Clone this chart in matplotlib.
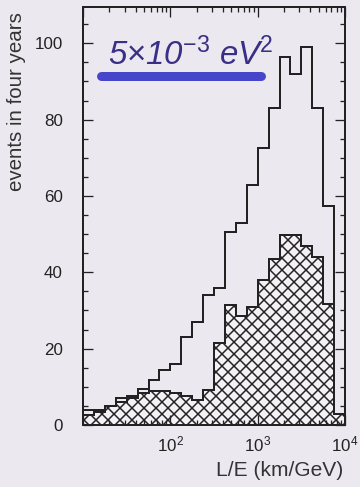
import matplotlib
matplotlib.use("Agg")
import matplotlib.pyplot as plt
import numpy as np
from matplotlib.ticker import FixedLocator, LogLocator, MultipleLocator, FuncFormatter

# binning: 8 bins per decade from 10 to 10^4 km/GeV
bin_edges = np.logspace(1, 4, 25)

# all events (open histogram)
events_all = [4, 4, 5, 7, 7, 9.5, 11.8, 14.4, 16.1, 23, 27, 34, 36,
              50.5, 53, 63, 72.5, 83, 96.5, 92, 99, 83, 57.5, 3]
# oscillated expectation (hatched histogram)
events_osc = [2.5, 3.5, 5, 6, 7.5, 8.5, 9, 9, 8.5, 7.5, 6.5, 9.2, 21.4,
              31.4, 28.5, 31, 38, 43.5, 49.7, 49.7, 47, 44, 31.8, 3]

x_ticks = [10, 100, 1000, 10000]
y_ticks = [0, 20, 40, 60, 80, 100]
dm2_label = r"5$\times$10$^{-3}$ eV$^{2}$"

bg = "#ebe9ef"
plt.rcParams["font.family"] = ["Liberation Sans", "DejaVu Sans"]
plt.rcParams["mathtext.fontset"] = "custom"
plt.rcParams["mathtext.rm"] = "Liberation Sans"
plt.rcParams["mathtext.it"] = "Liberation Sans:italic"
plt.rcParams["hatch.linewidth"] = 1.5

fig = plt.figure(figsize=(5.0, 487 / 72), dpi=72, facecolor=bg)
ax = fig.add_axes([83 / 360, 62 / 487, 262 / 360, 418 / 487])
ax.set_facecolor(bg)

ax.stairs(events_osc, bin_edges, fill=True, facecolor="#f3f1f5",
          edgecolor="#222222", hatch="xx", linewidth=0)
ax.stairs(events_osc, bin_edges, color="#222222", linewidth=2)
ax.stairs(events_all, bin_edges, color="#222222", linewidth=2)

ax.set_xscale("log")
ax.set_xlim(10, 10000)
ax.set_ylim(0, 109.5)

ax.xaxis.set_major_locator(FixedLocator(x_ticks))
ax.xaxis.set_minor_locator(LogLocator(base=10, subs=np.arange(2, 10)))
ax.xaxis.set_major_formatter(FuncFormatter(
    lambda v, p: "" if v < 50 else r"$10^{%d}$" % round(np.log10(v))))
ax.xaxis.set_minor_formatter(FuncFormatter(lambda v, p: ""))
ax.yaxis.set_major_locator(FixedLocator(y_ticks))
ax.yaxis.set_minor_locator(MultipleLocator(5))

ax.tick_params(which="both", direction="in", top=True, right=True,
               colors="#222222", width=1.3)
ax.tick_params(which="major", length=10, labelsize=17)
ax.tick_params(axis="y", which="major", pad=20)
ax.tick_params(axis="x", which="major", pad=10)
ax.tick_params(which="minor", length=5)
for s in ax.spines.values():
    s.set_linewidth(2)
    s.set_color("#222222")

fig.text(343 / 360, 1 - 471 / 487, "L/E (km/GeV)", ha="right", va="center",
         fontsize=21, color="#333333")
fig.text(17 / 360, 1 - 102 / 487, "events in four years", rotation=90,
         ha="center", va="center", fontsize=20.5, color="#333333")

# handwritten annotation
ax.plot([0.07, 0.68], [0.835, 0.835], transform=ax.transAxes,
        color="#3434c8", linewidth=9, solid_capstyle="round", alpha=0.9)
ax.text(0.095, 0.86, dm2_label, transform=ax.transAxes, fontsize=33,
        color="#3a2f86", style="italic", ha="left", va="baseline")

fig.savefig("out.png", dpi=72, facecolor=bg)
